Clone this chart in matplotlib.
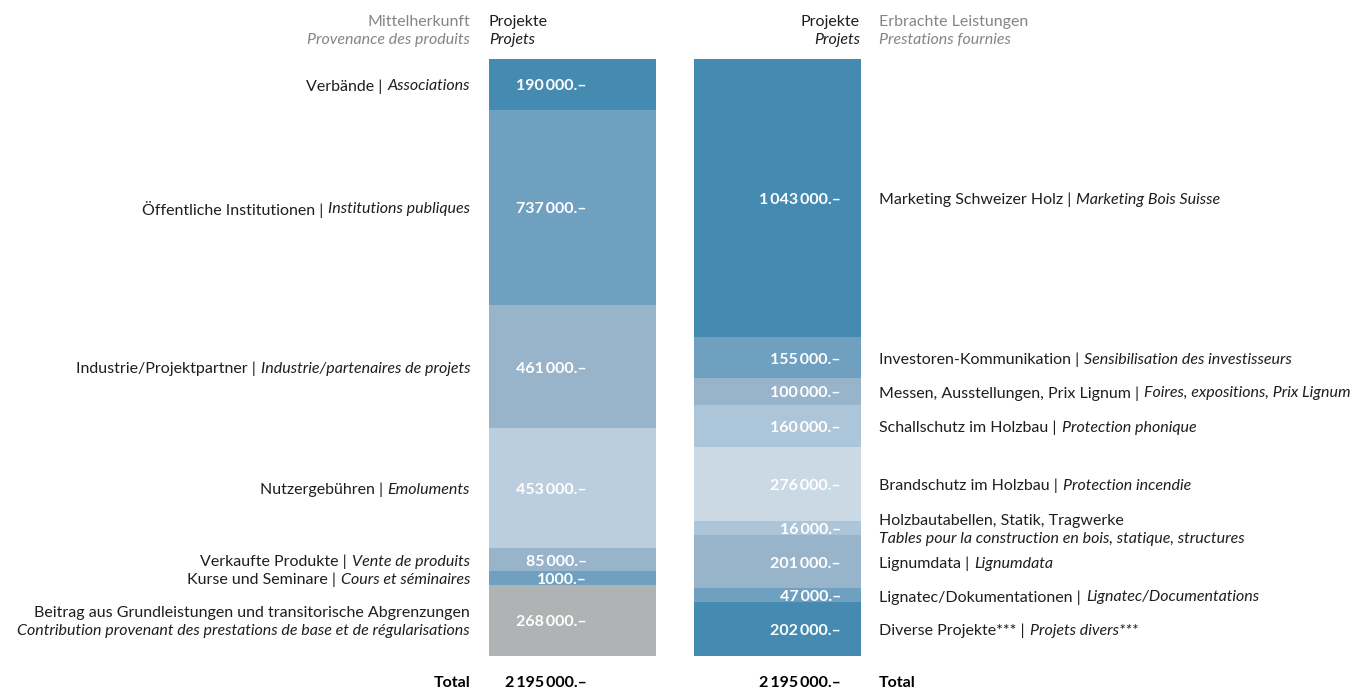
import matplotlib
matplotlib.use("Agg")
import matplotlib.pyplot as plt
from matplotlib.transforms import blended_transform_factory, offset_copy

# Mittelherkunft (links)
src_de = ["Verbände", "Öffentliche Institutionen", "Industrie/Projektpartner", "Nutzergebühren",
          "Verkaufte Produkte", "Kurse und Seminare",
          "Beitrag aus Grundleistungen und transitorische Abgrenzungen"]
src_fr = ["Associations", "Institutions publiques", "Industrie/partenaires de projets", "Emoluments",
          "Vente de produits", "Cours et séminaires",
          "Contribution provenant des prestations de base et de régularisations"]
src_values = [190000, 737000, 461000, 453000, 85000, 1000, 268000]
src_colors = ["#458bb1", "#6fa0c0", "#97b4cb", "#bbcedd", "#97b4cb", "#6fa0c0", "#b0b3b4"]

# Erbrachte Leistungen (rechts)
use_de = ["Marketing Schweizer Holz", "Investoren-Kommunikation", "Messen, Ausstellungen, Prix Lignum",
          "Schallschutz im Holzbau", "Brandschutz im Holzbau", "Holzbautabellen, Statik, Tragwerke",
          "Lignumdata", "Lignatec/Dokumentationen", "Diverse Projekte***"]
use_fr = ["Marketing Bois Suisse", "Sensibilisation des investisseurs", "Foires, expositions, Prix Lignum",
          "Protection phonique", "Protection incendie", "Tables pour la construction en bois, statique, structures",
          "Lignumdata", "Lignatec/Documentations", "Projets divers***"]
use_values = [1043000, 155000, 100000, 160000, 276000, 16000, 201000, 47000, 202000]
use_colors = ["#458bb1", "#6fa0c0", "#97b4cb", "#adc5d8", "#cbd9e5", "#adc5d8", "#97b4cb", "#6fa0c0", "#458bb1"]

total = 2195000
min_band = 52000  # kleine Posten bleiben lesbar

plt.rcParams["font.family"] = ["Lato", "DejaVu Sans"]
W, H = 1363, 689
fig = plt.figure(figsize=(W / 100, H / 100), dpi=100)
ax = fig.add_axes([489 / W, 1 - 656 / H, (861 - 489) / W, (656 - 59) / H])
ax.set_xlim(-0.4073, 1.4073)
ax.set_ylim(total, 0)
ax.axis("off")

dark = "#1e1e1e"
grey = "#858585"
fs = 11.5


def fmt(v):
    s = f"{v:,}".replace(",", "\u2009") if v >= 10000 else str(v)
    return s + ".–"


def stack(xpos, values, colors):
    disp = [max(v, min_band) for v in values]
    k = total / sum(disp)
    disp = [d * k for d in disp]
    centers = []
    bottom = 0
    for v, d, c in zip(values, disp, colors):
        ax.bar(xpos, d, bottom=bottom, width=0.8146, color=c, linewidth=0)
        centers.append(bottom + d / 2)
        bottom += d
    return centers


left_c = stack(0, src_values, src_colors)
right_c = stack(1, use_values, use_colors)

base = blended_transform_factory(fig.transFigure, ax.transData)
trf = offset_copy(base, fig=fig, y=-2, units="dots")
up = offset_copy(base, fig=fig, y=-2 + 9, units="dots")
down = offset_copy(base, fig=fig, y=-2 - 9, units="dots")

for v, y in zip(src_values, left_c):
    ax.text(587 / W, y, fmt(v), transform=trf, ha="right", va="center", color="white",
            fontsize=fs, fontweight="bold")
for v, y in zip(use_values, right_c):
    ax.text(841 / W, y, fmt(v), transform=trf, ha="right", va="center", color="white",
            fontsize=fs, fontweight="bold")

fig.canvas.draw()
renderer = fig.canvas.get_renderer()
gap = 5

# linke Beschriftungen
for de, fr, y in zip(src_de, src_fr, left_c):
    if len(de) > 40:
        ax.text(470 / W, y, de, transform=up, ha="right", va="center", color=dark, fontsize=fs)
        ax.text(470 / W, y, fr, transform=down, ha="right", va="center", color=dark,
                fontsize=fs, style="italic")
        continue
    t = ax.text(470 / W, y, fr, transform=trf, ha="right", va="center", color=dark,
                fontsize=fs, style="italic")
    bb = t.get_window_extent(renderer)
    ax.text(bb.x0 / W - gap / W, y, de + " |", transform=trf, ha="right", va="center",
            color=dark, fontsize=fs)

# rechte Beschriftungen
for de, fr, y in zip(use_de, use_fr, right_c):
    if len(fr) > 45:
        ax.text(879 / W, y, de, transform=up, ha="left", va="center", color=dark, fontsize=fs)
        ax.text(879 / W, y, fr, transform=down, ha="left", va="center", color=dark,
                fontsize=fs, style="italic")
        continue
    t = ax.text(879 / W, y, de + " |", transform=trf, ha="left", va="center", color=dark,
                fontsize=fs)
    bb = t.get_window_extent(renderer)
    ax.text(bb.x1 / W + gap / W, y, fr, transform=trf, ha="left", va="center",
            color=dark, fontsize=fs, style="italic")


# Kopfzeilen
def ypx(p):
    return 1 - p / H


fig.text(470 / W, ypx(22), "Mittelherkunft", ha="right", va="center", color=grey, fontsize=fs)
fig.text(470 / W, ypx(40), "Provenance des produits", ha="right", va="center", color=grey,
         fontsize=fs, style="italic")
fig.text(489 / W, ypx(22), "Projekte", ha="left", va="center", color=dark, fontsize=fs)
fig.text(489 / W, ypx(40), "Projets", ha="left", va="center", color=dark, fontsize=fs, style="italic")
fig.text(860 / W, ypx(22), "Projekte", ha="right", va="center", color=dark, fontsize=fs)
fig.text(860 / W, ypx(40), "Projets", ha="right", va="center", color=dark, fontsize=fs, style="italic")
fig.text(879 / W, ypx(22), "Erbrachte Leistungen", ha="left", va="center", color=grey, fontsize=fs)
fig.text(879 / W, ypx(40), "Prestations fournies", ha="left", va="center", color=grey,
         fontsize=fs, style="italic")

# Total
ty = ypx(683)
fig.text(470 / W, ty, "Total", ha="right", va="center", color="black", fontsize=fs,
         fontweight="bold")
fig.text(587 / W, ty, fmt(total), ha="right", va="center", color="black",
         fontsize=fs, fontweight="bold")
fig.text(841 / W, ty, fmt(total), ha="right", va="center", color="black",
         fontsize=fs, fontweight="bold")
fig.text(879 / W, ty, "Total", ha="left", va="center", color="black", fontsize=fs,
         fontweight="bold")

fig.savefig("out.png", dpi=100)
